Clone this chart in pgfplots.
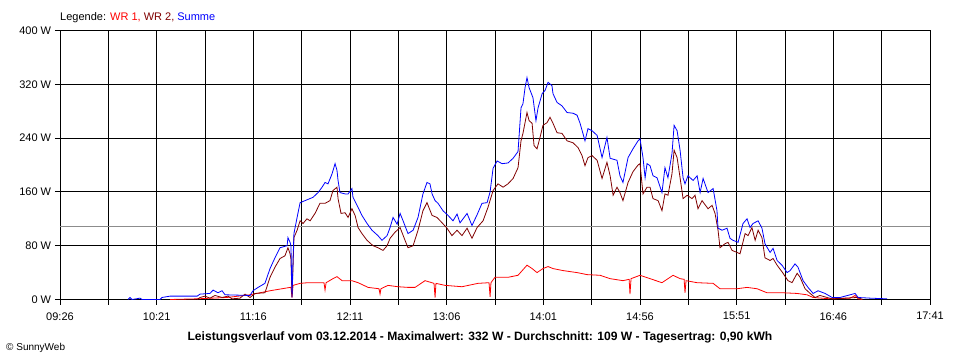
\documentclass[border=0pt]{standalone}
\usepackage{pgfplots}
\pgfplotsset{compat=1.18}
\usepackage{fontspec}
\setmainfont{Liberation Sans}
\definecolor{wra}{HTML}{FF0000}
\definecolor{wrb}{HTML}{800000}
\definecolor{summe}{HTML}{0000FF}
\definecolor{avg}{HTML}{8C8C8C}
\begin{document}
\fontsize{11bp}{13bp}\selectfont
\begin{tikzpicture}
\path[use as bounding box] (-60bp,-60.5bp) rectangle (900bp,299.5bp);
\begin{axis}[
  at={(0,0)}, anchor=south west,
  width=870bp, height=269bp, scale only axis,
  xmin=0, xmax=495, ymin=0, ymax=400,
  xtick={0,27.5,...,495},
  xticklabels={09:26,,10:21,,11:16,,12:11,,13:06,,14:01,,14:56,,15:51,,16:46,,17:41},
  ytick={0,80,160,240,320,400},
  yticklabels={0 W,80 W,160 W,240 W,320 W,400 W},
  xtick pos=lower, ytick pos=left,
  tick align=outside, major tick length=5bp,
  grid=major,
  major grid style={black, line width=0.8bp},
  axis line style={black, line width=0.8bp},
  tick style={black, line width=0.8bp},
  ticklabel style={font=\fontsize{11bp}{13bp}\selectfont},
  xticklabel style={yshift=-4bp},
  every axis plot/.append style={line width=0.8bp},
]
\addplot[avg, line width=0.9bp] coordinates {(0,109) (495,109)};
% WR 1
\addplot[wra] coordinates {
(62.6,0) (78.0,1) (95.0,3) (108.1,7) (119.5,13) (130.9,18) (131.4,18) (132.0,3) (132.6,21) (136.6,24) (141.1,25)
(150.2,25) (150.8,14) (151.4,25) (155.3,31) (157.6,34) (160.5,28) (166.1,28) (169.6,25) (175.3,18) (181.5,16)
(182.1,8) (182.6,16) (186.6,21) (192.3,19) (198.0,18) (202.0,18) (207.7,28) (212.8,24) (213.4,3) (213.9,24)
(219.1,21) (228.7,19) (237.8,24) (244.1,25) (244.7,4) (245.2,25) (247.5,33) (254.9,33) (260.6,36) (265.7,51)
(268.6,46) (271.4,40) (274.8,46) (277.7,49) (280.5,46) (286.2,43) (294.2,40) (299.9,37) (307.3,36) (313.0,31)
(320.3,28) (323.8,30) (324.3,8) (324.9,31) (330.0,36) (335.7,31) (342.5,25) (348.8,36) (352.8,31) (355.1,30)
(355.6,10) (356.2,28) (362.5,25) (371.6,24) (375.5,16) (385.2,16) (390.9,18) (396.6,16) (402.3,10) (411.4,10)
(419.4,9) (425.0,7) (428.5,3) (438.1,1) (449.5,2) (452.4,6) (454.1,1) (456.3,0)
};
% WR 2
\addplot[wrb] coordinates {
(78.0,0) (79.7,3) (82.5,5) (85.3,2) (88.2,6) (92.2,3) (95.6,5) (97.9,1) (102.4,2) (105.3,8) (108.1,3) (111.0,9)
(116.6,10) (119.5,33) (122.3,48) (125.2,61) (128.0,65) (129.7,77) (130.9,68) (131.4,60) (132.0,3) (132.6,50)
(133.1,92) (134.9,103) (136.6,117) (138.3,113) (140.5,120) (142.3,117) (145.1,128) (147.9,143) (150.8,143)
(153.6,147) (155.3,162) (157.6,167) (158.2,150) (159.9,128) (162.2,129) (163.9,122) (166.1,135) (167.9,125)
(169.6,107) (171.8,98) (174.7,88) (178.1,80) (180.9,77) (183.8,73) (186.1,80) (187.8,91) (190.6,100) (193.5,107)
(196.3,88) (198.0,77) (200.9,80) (203.7,103) (206.5,132) (208.8,144) (211.7,125) (214.5,122) (217.4,114)
(220.2,106) (223.0,95) (225.9,103) (228.7,95) (231.6,106) (234.4,91) (237.3,107) (240.7,117) (243.5,137)
(246.4,162) (249.2,172) (252.1,167) (254.9,172) (257.8,180) (260.6,196) (262.3,236) (263.4,247) (265.7,278)
(266.9,266) (268.6,262) (269.7,229) (271.4,224) (273.1,241) (274.8,259) (277.1,263) (278.8,271) (280.5,262)
(282.8,248) (285.6,247) (288.5,236) (291.9,233) (294.7,226) (297.0,214) (298.7,199) (300.4,211) (302.7,214)
(305.6,207) (308.4,180) (311.2,204) (313.0,184) (314.7,155) (316.9,167) (318.6,159) (320.3,147) (323.2,174)
(326.0,190) (328.9,200) (330.0,202) (331.7,157) (334.0,167) (335.7,167) (337.4,150) (340.3,147) (342.5,132)
(344.2,157) (345.9,155) (348.2,187) (349.4,222) (351.1,211) (352.8,181) (354.5,150) (356.8,155) (359.6,150)
(361.3,155) (363.0,135) (365.3,147) (368.7,135) (371.0,140) (372.7,128) (374.4,103) (375.5,77) (378.4,83)
(380.1,85) (382.4,73) (385.2,70) (386.9,68) (389.8,98) (391.5,95) (393.7,107) (395.5,88) (397.2,103) (399.4,92)
(401.1,62) (404.0,58) (405.7,61) (408.0,51) (411.4,39) (414.2,28) (416.5,25) (419.4,39) (421.1,33) (423.9,16)
(426.8,9) (429.6,3) (432.4,6) (436.4,3) (439.3,1) (446.7,2) (453.5,3) (456.9,0)
};
% Summe
\addplot[summe] coordinates {
(38.7,0) (39.8,3) (41.0,0) (45.5,2) (46.7,0) (56.9,0) (58.0,3) (62.6,5) (78.0,5) (79.7,8) (85.3,9) (87.1,14)
(89.9,10) (92.2,13) (93.9,7) (108.1,6) (109.8,13) (112.7,18) (116.6,24) (119.5,46) (122.3,62) (125.2,77)
(129.2,80) (129.7,92) (130.9,85) (131.4,80) (132.0,3) (132.6,60) (133.1,98) (134.9,122) (136.6,144) (139.4,147)
(144.0,152) (146.8,159) (149.1,167) (150.8,174) (152.5,172) (154.8,187) (156.5,202) (157.6,192) (158.2,177)
(159.3,159) (162.2,157) (163.9,157) (166.1,165) (166.7,152) (169.6,137) (171.8,125) (174.7,113) (177.5,103)
(180.9,95) (183.2,88) (186.1,95) (187.8,107) (189.5,122) (191.8,112) (193.5,128) (195.2,117) (198.0,98)
(200.9,103) (203.7,122) (206.5,157) (208.8,174) (210.5,172) (211.7,157) (213.4,147) (215.1,143) (217.9,132)
(220.8,125) (223.6,117) (225.9,127) (227.6,114) (231.6,128) (234.4,110) (237.3,126) (240.1,143) (243.0,144)
(244.7,160) (246.4,195) (248.7,206) (251.5,202) (254.9,203) (257.8,210) (260.6,220) (262.3,285) (263.4,291)
(264.6,315) (265.7,330) (266.9,315) (269.1,300) (270.8,266) (272.0,285) (274.3,306) (276.0,311) (277.7,323)
(279.9,318) (280.5,306) (282.8,293) (285.6,288) (288.5,278) (291.9,277) (294.2,274) (295.9,262) (298.7,236)
(300.4,254) (302.7,251) (305.6,244) (308.4,211) (311.2,241) (313.0,210) (316.9,207) (318.6,184) (320.3,174)
(323.2,211) (326.0,224) (328.9,236) (330.0,239) (331.7,211) (332.9,181) (334.0,202) (335.7,199) (337.4,184)
(339.7,181) (342.5,159) (344.2,196) (345.9,181) (348.2,217) (349.4,259) (351.1,251) (352.8,222) (354.5,181)
(355.6,172) (357.3,184) (360.2,177) (362.5,184) (364.2,159) (365.9,180) (368.7,159) (371.6,165) (373.8,132)
(374.4,106) (376.7,103) (379.5,106) (381.2,91) (382.9,88) (385.8,85) (388.6,113) (390.9,120) (392.6,107)
(394.3,113) (397.2,117) (399.4,106) (401.1,83) (404.0,70) (405.7,76) (408.0,58) (410.8,51) (413.7,40) (415.4,43)
(418.2,53) (419.9,48) (422.8,28) (425.6,18) (428.5,9) (431.3,13) (435.3,9) (439.3,3) (443.8,3) (452.4,9)
(454.1,3) (460.9,2) (470.6,1)
};
\end{axis}
\node[anchor=base west, inner sep=0pt] at (0bp,278.8bp)
  {Legende: \textcolor{wra}{WR 1,} \textcolor{wrb}{WR 2,} \textcolor{summe}{Summe}};
\node[inner sep=0pt] at (420bp,-37.5bp)
  {\fontsize{12.1bp}{14bp}\selectfont\bfseries Leistungsverlauf vom 03.12.2014 - Maximalwert: 332 W - Durchschnitt: 109 W - Tagesertrag: 0,90 kWh};
\node[anchor=west, inner sep=0pt] at (-54bp,-48.5bp) {\fontsize{10bp}{12bp}\selectfont © SunnyWeb};
\end{tikzpicture}
\end{document}
